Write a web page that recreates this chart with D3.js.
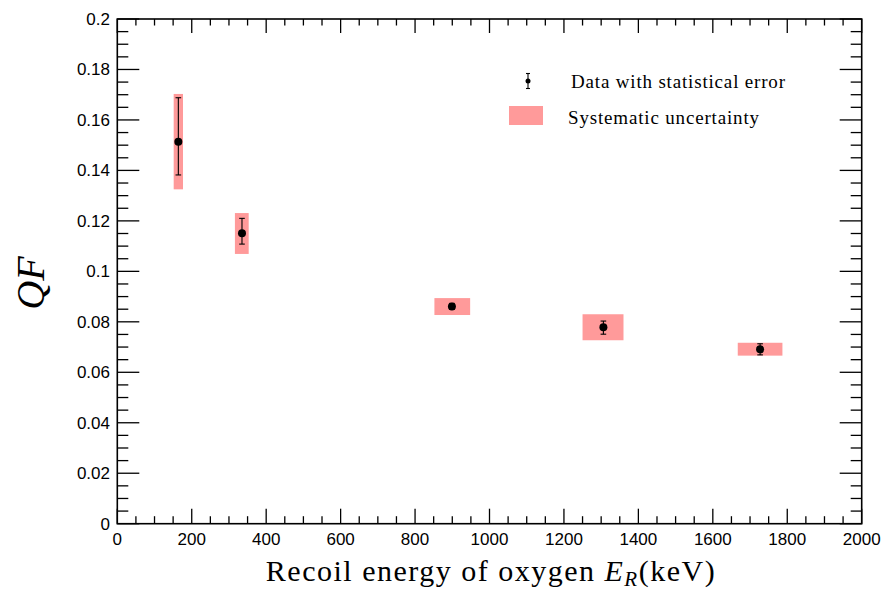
<!DOCTYPE html>
<html>
<head>
<meta charset="utf-8">
<script src="https://cdn.jsdelivr.net/npm/d3@7"></script>
<style>
  html, body { margin: 0; padding: 0; background: #fff; }
  svg { display: block; }
</style>
</head>
<body>
<svg id="chart" width="886" height="590"></svg>
<script>
// ---- data ----
const energies   = [164, 335, 899, 1306, 1727];          // keV
const qfValues   = [0.1514, 0.1151, 0.0861, 0.0778, 0.0691];
const statErrUp  = [0.0174, 0.0059, 0.0012, 0.0025, 0.0022];
const statErrDn  = [0.0132, 0.0043, 0.0012, 0.0027, 0.0022];
const sysLow     = [0.1325, 0.1069, 0.0827, 0.0727, 0.0666];
const sysHigh    = [0.1703, 0.1231, 0.0894, 0.0830, 0.0717];
const boxLeftE   = [151.5, 316, 852, 1250, 1667];
const boxRightE  = [176.5, 353, 948, 1360, 1787];
const xTickLabels = ["0","200","400","600","800","1000","1200","1400","1600","1800","2000"];
const yTickLabels = ["0","0.02","0.04","0.06","0.08","0.1","0.12","0.14","0.16","0.18","0.2"];
const legendLabels = ["Data with statistical error", "Systematic uncertainty"];

const points = energies.map((e, i) => ({
  e, qf: qfValues[i], up: statErrUp[i], dn: statErrDn[i],
  lo: sysLow[i], hi: sysHigh[i], bl: boxLeftE[i], br: boxRightE[i]
}));

// ---- layout ----
const pLeft = 117.3, pRight = 861.7, pTop = 19, pBottom = 523.7;
const x = d3.scaleLinear().domain([0, 2000]).range([pLeft, pRight]);
const y = d3.scaleLinear().domain([0, 0.2]).range([pBottom, pTop]);

const svg = d3.select("#chart");
const pink = "#ff9a9a";

// systematic boxes
svg.append("g").selectAll("rect").data(points).join("rect")
  .attr("x", d => x(d.bl))
  .attr("width", d => x(d.br) - x(d.bl))
  .attr("y", d => y(d.hi))
  .attr("height", d => y(d.lo) - y(d.hi))
  .attr("fill", pink);

// error bars
const eb = svg.append("g").attr("stroke", "#000").attr("stroke-width", 1.1);
eb.selectAll("line.v").data(points).join("line").attr("class", "v")
  .attr("x1", d => x(d.e)).attr("x2", d => x(d.e))
  .attr("y1", d => y(d.qf + d.up)).attr("y2", d => y(d.qf - d.dn));
eb.selectAll("line.t").data(points).join("line").attr("class", "t")
  .attr("x1", d => x(d.e) - 2.8).attr("x2", d => x(d.e) + 2.8)
  .attr("y1", d => y(d.qf + d.up)).attr("y2", d => y(d.qf + d.up));
eb.selectAll("line.b").data(points).join("line").attr("class", "b")
  .attr("x1", d => x(d.e) - 2.8).attr("x2", d => x(d.e) + 2.8)
  .attr("y1", d => y(d.qf - d.dn)).attr("y2", d => y(d.qf - d.dn));

// markers
svg.append("g").selectAll("circle").data(points).join("circle")
  .attr("cx", d => x(d.e)).attr("cy", d => y(d.qf)).attr("r", 4)
  .attr("fill", "#000");

// ---- axes with ROOT-like ticks ----
const axG = svg.append("g").attr("stroke", "#000").attr("stroke-width", 1.3);
const xMinor = d3.range(0, 2001, 50);
const yMinor = d3.range(0, 41).map(i => i * 0.005);
function isMajorX(v) { return Math.abs(v / 200 - Math.round(v / 200)) < 1e-6; }
function isMajorY(v) { return Math.abs(v / 0.02 - Math.round(v / 0.02)) < 1e-6; }

// bottom
axG.selectAll("line.xb").data(xMinor).join("line").attr("class", "xb")
  .attr("x1", d => x(d)).attr("x2", d => x(d))
  .attr("y1", pBottom).attr("y2", d => pBottom - (isMajorX(d) ? 15 : 7.5));
// top
axG.selectAll("line.xt").data(xMinor).join("line").attr("class", "xt")
  .attr("x1", d => x(d)).attr("x2", d => x(d))
  .attr("y1", pTop).attr("y2", d => pTop + (isMajorX(d) ? 14 : 6.5));
// left
axG.selectAll("line.yl").data(yMinor).join("line").attr("class", "yl")
  .attr("y1", d => y(d)).attr("y2", d => y(d))
  .attr("x1", pLeft).attr("x2", d => pLeft + (isMajorY(d) ? 22 : 11));
// right
axG.selectAll("line.yr").data(yMinor).join("line").attr("class", "yr")
  .attr("y1", d => y(d)).attr("y2", d => y(d))
  .attr("x1", pRight).attr("x2", d => pRight - (isMajorY(d) ? 22 : 11));

// frame
svg.append("rect")
  .attr("x", pLeft).attr("y", pTop)
  .attr("width", pRight - pLeft).attr("height", pBottom - pTop)
  .attr("fill", "none").attr("stroke", "#000").attr("stroke-width", 1.6);

// tick labels
const xMajor = d3.range(0, 2001, 200);
svg.append("g").selectAll("text").data(xMajor).join("text")
  .attr("x", d => x(d)).attr("y", 545)
  .attr("text-anchor", "middle")
  .attr("font-family", "Liberation Sans, Arial, sans-serif")
  .attr("font-size", 17).attr("fill", "#000")
  .text((d, i) => xTickLabels[i]);

const yMajor = d3.range(0, 11).map(i => i * 0.02);
svg.append("g").selectAll("text").data(yMajor).join("text")
  .attr("x", 110).attr("y", d => y(d) + 6)
  .attr("text-anchor", "end")
  .attr("font-family", "Liberation Sans, Arial, sans-serif")
  .attr("font-size", 17).attr("fill", "#000")
  .text((d, i) => yTickLabels[i]);

// axis titles
const xt = svg.append("text")
  .attr("x", 491).attr("y", 581)
  .attr("text-anchor", "middle")
  .attr("font-family", "Liberation Serif, DejaVu Serif, serif")
  .attr("letter-spacing", 1.5)
  .attr("font-size", 30).attr("fill", "#000");
xt.append("tspan").text("Recoil energy of oxygen ");
xt.append("tspan").attr("font-style", "italic").text("E");
xt.append("tspan").attr("font-style", "italic").attr("font-size", 21).attr("dy", 5).text("R");
xt.append("tspan").attr("dy", -5).text("(keV)");

svg.append("text")
  .attr("transform", "translate(44,283) rotate(-90)")
  .attr("text-anchor", "middle")
  .attr("font-family", "Liberation Serif, DejaVu Serif, serif")
  .attr("font-style", "italic")
  .attr("font-size", 40).attr("fill", "#000")
  .text("QF");

// legend
const lg = svg.append("g");
lg.append("line").attr("x1", 528).attr("x2", 528).attr("y1", 73.5).attr("y2", 88.5)
  .attr("stroke", "#000").attr("stroke-width", 1.1);
lg.append("line").attr("x1", 526).attr("x2", 530).attr("y1", 73.5).attr("y2", 73.5)
  .attr("stroke", "#000").attr("stroke-width", 1.1);
lg.append("line").attr("x1", 526).attr("x2", 530).attr("y1", 88.5).attr("y2", 88.5)
  .attr("stroke", "#000").attr("stroke-width", 1.1);
lg.append("circle").attr("cx", 528).attr("cy", 81).attr("r", 2.5).attr("fill", "#000");
lg.append("rect").attr("x", 509).attr("y", 106).attr("width", 34).attr("height", 19)
  .attr("fill", pink);
lg.append("text").attr("x", 571).attr("y", 88)
  .attr("font-family", "Liberation Serif, DejaVu Serif, serif")
  .attr("font-size", 19).attr("fill", "#000")
  .attr("textLength", 214).attr("lengthAdjust", "spacing")
  .text(legendLabels[0]);
lg.append("text").attr("x", 568).attr("y", 124)
  .attr("font-family", "Liberation Serif, DejaVu Serif, serif")
  .attr("font-size", 19).attr("fill", "#000")
  .attr("textLength", 191).attr("lengthAdjust", "spacing")
  .text(legendLabels[1]);
</script>
</body>
</html>
